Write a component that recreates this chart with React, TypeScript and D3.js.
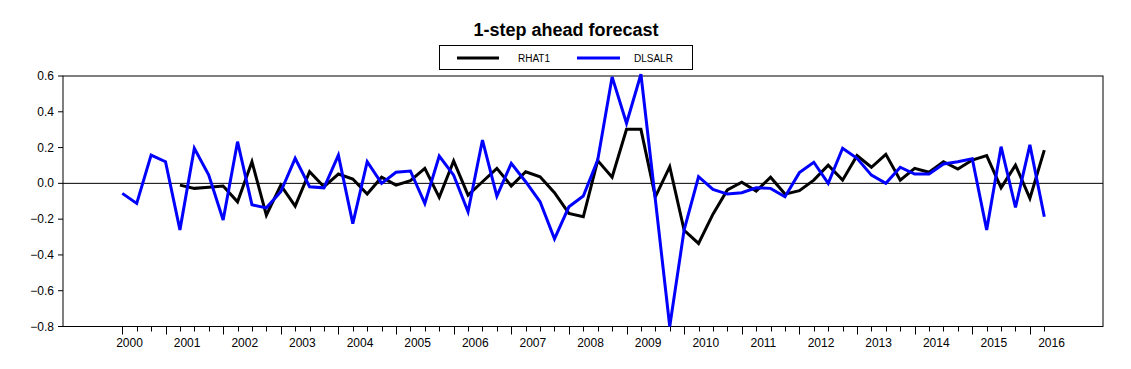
import React from 'react';
import * as d3 from 'd3';

// quarterly observations, index 0 = first quarter shown
const dlsalr = [
  -0.056, -0.112, 0.158, 0.121, -0.26, 0.196, 0.046, -0.205, 0.233, -0.12,
  -0.137, -0.047, 0.14, -0.019, -0.025, 0.158, -0.225, 0.121, 0.0, 0.062,
  0.069, -0.112, 0.153, 0.046, -0.159, 0.242, -0.071, 0.112, 0.009, -0.103,
  -0.31, -0.131, -0.071, 0.13, 0.595, 0.336, 0.61, -0.09, -0.8, -0.26,
  0.037, -0.034, -0.06, -0.052, -0.025, -0.028, -0.075, 0.06, 0.118, 0.0,
  0.196, 0.14, 0.046, 0.0, 0.09, 0.052, 0.052, 0.108, 0.121, 0.138,
  -0.26, 0.205, -0.135, 0.215, -0.187
];

// forecast starts at index 4
const rhat1Start = 4;
const rhat1 = [
  -0.01, -0.028, -0.022, -0.015, -0.103, 0.121, -0.178, -0.01, -0.127, 0.065,
  -0.019, 0.052, 0.024, -0.06, 0.034, -0.01, 0.015, 0.084, -0.078, 0.125,
  -0.066, 0.009, 0.084, -0.015, 0.065, 0.037, -0.052, -0.168, -0.187, 0.127,
  0.034, 0.302, 0.302, -0.075, 0.093, -0.262, -0.336, -0.172, -0.037, 0.006,
  -0.043, 0.034, -0.06, -0.041, 0.018, 0.102, 0.018, 0.155, 0.09, 0.162,
  0.018, 0.084, 0.062, 0.121, 0.08, 0.13, 0.155, -0.025, 0.102, -0.084,
  0.186
];

const yearLabels = ['2000', '2001', '2002', '2003', '2004', '2005', '2006', '2007', '2008',
  '2009', '2010', '2011', '2012', '2013', '2014', '2015', '2016'];
const yTicks = [0.6, 0.4, 0.2, 0.0, -0.2, -0.4, -0.6, -0.8];

const W = 1131;
const H = 369;
const plot = { left: 63, right: 1103, top: 76, bottom: 326.5 };
const font = 'Arial, "Liberation Sans", sans-serif';

export default function App() {
  const x = d3.scaleLinear().domain([0, dlsalr.length - 1]).range([122.3, 1044.3]);
  const y = d3.scaleLinear().domain([-0.8, 0.6]).range([plot.bottom, plot.top]);

  const blueLine = d3.line<number>().x((d, i) => x(i)).y(d => y(d))(dlsalr);
  const blackLine = d3.line<number>().x((d, i) => x(i + rhat1Start)).y(d => y(d))(rhat1);

  const fmt = d3.format('.1f');

  return (
    <svg width={W} height={H} style={{ position: 'absolute', left: 0, top: 0, background: '#fff' }}>
      <text x={566} y={36} textAnchor="middle" fontFamily={font} fontWeight="bold" fontSize={18}>
        1-step ahead forecast
      </text>

      {/* legend */}
      <rect x={439.5} y={45.5} width={253} height={24} fill="#fff" stroke="#000" strokeWidth={1} />
      <line x1={457} x2={499} y1={58} y2={58} stroke="#000" strokeWidth={3} />
      <text x={518} y={61.5} fontFamily={font} fontSize={10}>RHAT1</text>
      <line x1={577} x2={620} y1={58} y2={58} stroke="#0000ff" strokeWidth={3} />
      <text x={634} y={61.5} fontFamily={font} fontSize={10}>DLSALR</text>

      {/* plot frame */}
      <rect x={plot.left} y={plot.top} width={plot.right - plot.left} height={plot.bottom - plot.top}
        fill="none" stroke="#000" strokeWidth={1} />
      <line x1={plot.left} x2={plot.right} y1={y(0)} y2={y(0)} stroke="#000" strokeWidth={1} />

      {/* y axis */}
      {yTicks.map(t => (
        <g key={t}>
          <line x1={plot.left - 5} x2={plot.left} y1={y(t)} y2={y(t)} stroke="#000" />
          <text x={54} y={y(t) + 4} textAnchor="end" fontFamily={font} fontSize={12}>{fmt(t)}</text>
        </g>
      ))}

      {/* x axis */}
      {dlsalr.map((d, i) => {
        const long = i === 0 || (i - 3) % 4 === 0;
        return (
          <line key={i} x1={Math.round(x(i)) + 0.5} x2={Math.round(x(i)) + 0.5}
            y1={plot.bottom} y2={plot.bottom + (long ? 8 : 5)} stroke="#000" />
        );
      })}
      {yearLabels.map((lab, k) => (
        <text key={lab} x={x(0.5 + 4 * k)} y={347} textAnchor="middle" fontFamily={font} fontSize={12}>
          {lab}
        </text>
      ))}

      <path d={blackLine ?? ''} fill="none" stroke="#000" strokeWidth={3} strokeLinejoin="miter" />
      <path d={blueLine ?? ''} fill="none" stroke="#0000ff" strokeWidth={3} strokeLinejoin="miter" />
    </svg>
  );
}
